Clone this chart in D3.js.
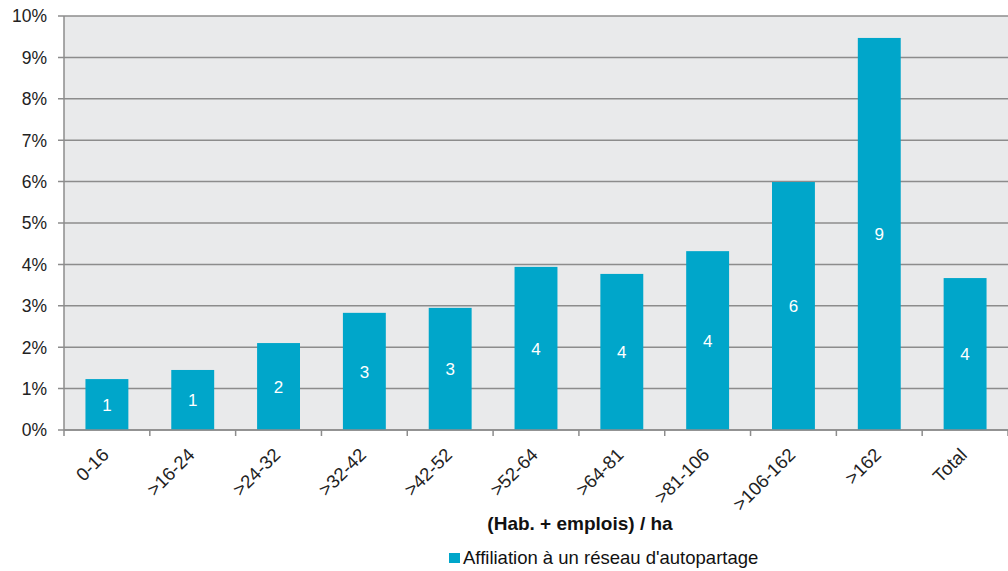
<!DOCTYPE html>
<html><head><meta charset="utf-8">
<script src="https://cdn.jsdelivr.net/npm/d3@7/dist/d3.min.js"></script>
<style>body{margin:0;background:#fff;} text{font-family:"Liberation Sans",Arial,sans-serif;}</style>
</head><body>
<svg id="c" width="1008" height="571"></svg>
<script>
const categories = ["0-16", ">16-24", ">24-32", ">32-42", ">42-52", ">52-64", ">64-81", ">81-106", ">106-162", ">162", "Total"];
const values = [1.23, 1.45, 2.1, 2.83, 2.95, 3.94, 3.77, 4.32, 5.99, 9.47, 3.67];
const barLabels = ["1", "1", "2", "3", "3", "4", "4", "4", "6", "9", "4"];
const yTicks = [0,1,2,3,4,5,6,7,8,9,10];
const xTitle = "(Hab. + emplois) / ha";
const seriesName = "Affiliation à un réseau d'autopartage";

const svg = d3.select("#c");
const m = {l:64, r:1008, t:16, b:430};
const x = d3.scaleBand().domain(categories).range([m.l, m.r]).paddingInner(0.5).paddingOuter(0.25);
const y = d3.scaleLinear().domain([0,10]).range([m.b, m.t]);
const color = "#00A6CA", grid = "#8c8c8c";

svg.append("rect").attr("x", m.l).attr("y", m.t).attr("width", m.r - m.l).attr("height", m.b - m.t).attr("fill", "#e9eaeb");

// gridlines
svg.append("g").selectAll("line").data(yTicks).join("line")
  .attr("x1", m.l - 6).attr("x2", m.r).attr("y1", d => y(d)).attr("y2", d => y(d))
  .attr("stroke", grid).attr("stroke-width", 1.5);
// y labels
svg.append("g").selectAll("text").data(yTicks).join("text")
  .attr("x", 47).attr("y", d => y(d)).attr("dy", "0.36em").attr("text-anchor", "end")
  .attr("font-size", 17.5).attr("fill", "#222").text(d => d + "%");

// bars
svg.append("g").selectAll("rect").data(values).join("rect")
  .attr("x", (d,i) => x(categories[i])).attr("width", x.bandwidth())
  .attr("y", d => y(d)).attr("height", d => y(0) - y(d)).attr("fill", color);
svg.append("g").selectAll("text").data(values).join("text")
  .attr("x", (d,i) => x(categories[i]) + x.bandwidth()/2)
  .attr("y", d => (y(d) + y(0))/2).attr("dy", "0.36em").attr("text-anchor", "middle")
  .attr("font-size", 17).attr("fill", "#fff").text((d,i) => barLabels[i]);

// axes lines
svg.append("line").attr("x1", m.l).attr("x2", m.l).attr("y1", m.t).attr("y2", m.b).attr("stroke", grid).attr("stroke-width", 1.5);
svg.append("line").attr("x1", m.l).attr("x2", m.r).attr("y1", m.b).attr("y2", m.b).attr("stroke", grid).attr("stroke-width", 1.5);
// x ticks between categories
const step = x.step();
svg.append("g").selectAll("line").data(d3.range(categories.length + 1)).join("line")
  .attr("x1", i => m.l + i*step).attr("x2", i => m.l + i*step)
  .attr("y1", m.b).attr("y2", m.b + 6).attr("stroke", grid).attr("stroke-width", 1.5);

// x labels rotated
svg.append("g").selectAll("text").data(categories).join("text")
  .attr("transform", d => `translate(${x(d) + x.bandwidth()/2 + 3},${m.b + 26}) rotate(-45)`)
  .attr("text-anchor", "end")
  .attr("font-size", 18.5).attr("fill", "#222").text(d => d);

svg.append("text").attr("x", 580).attr("y", 530).attr("text-anchor", "middle")
  .attr("font-size", 19).attr("font-weight", "bold").attr("fill", "#111").text(xTitle);

svg.append("rect").attr("x", 449).attr("y", 553).attr("width", 11).attr("height", 10).attr("fill", color);
svg.append("text").attr("x", 463).attr("y", 564).attr("font-size", 18.5).attr("fill", "#111").text(seriesName);
</script>
</body></html>
